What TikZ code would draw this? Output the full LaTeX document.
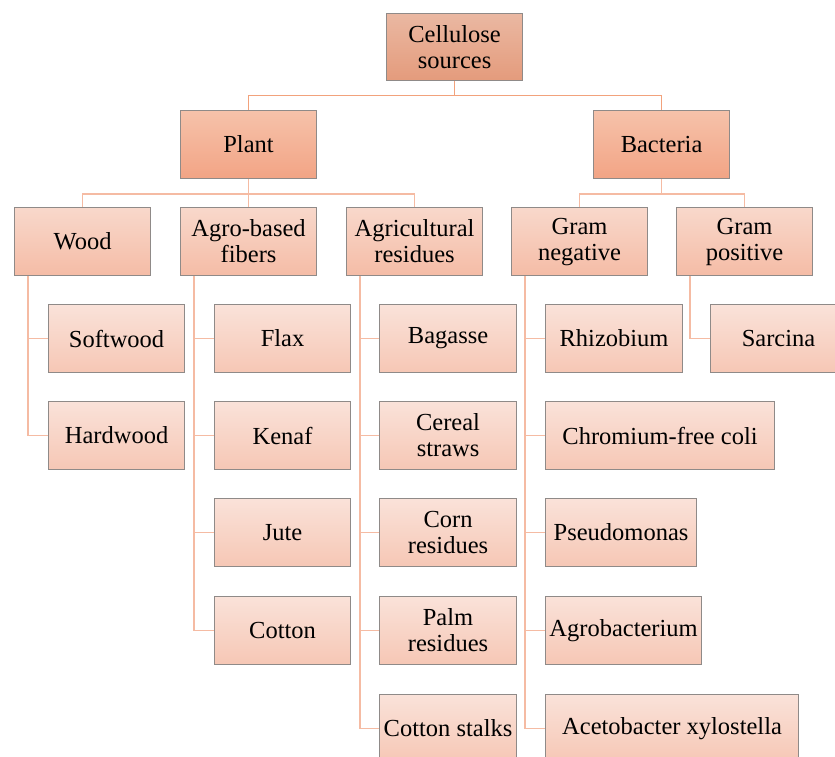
\documentclass[tikz,border=0pt]{standalone}
\usepackage{fontspec}
\setmainfont{Liberation Serif}
\definecolor{rootT}{HTML}{EAB8A2}
\definecolor{rootB}{HTML}{E49B7C}
\definecolor{midT}{HTML}{F6C2AA}
\definecolor{midB}{HTML}{F2A485}
\definecolor{secT}{HTML}{F8D8CB}
\definecolor{secB}{HTML}{F5BCA6}
\definecolor{leafT}{HTML}{FAE2D9}
\definecolor{leafB}{HTML}{F6C7B5}
\definecolor{bord}{HTML}{8F8A88}
\definecolor{lineA}{HTML}{F2A27C}
\definecolor{lineB}{HTML}{F5BBA3}
\begin{document}
\begin{tikzpicture}[x=1pt,y=-1pt,
  box/.style={draw=bord, line width=1.1pt, anchor=north west, align=center,
    inner sep=0pt, font=\fontsize{24.5}{26}\selectfont, text=black},
  lvlroot/.style={box, top color=rootT, bottom color=rootB, minimum width=136, minimum height=67},
  lvlone/.style={box, top color=midT, bottom color=midB, minimum width=136, minimum height=68},
  lvltwo/.style={box, top color=secT, bottom color=secB, minimum width=136, minimum height=68},
  leaf/.style={box, top color=leafT, bottom color=leafB, minimum height=68},
  conA/.style={draw=lineA, line width=1.8pt},
  conB/.style={draw=lineB, line width=1.8pt}]
\clip (0,0) rectangle (835,757);
\useasboundingbox (0,0) rectangle (835,757);
% nodes
\node[lvlroot] (root) at (386,13) {Cellulose\\sources};
\node[lvlone] (plant) at (180,110) {Plant};
\node[lvlone] (bact) at (593,110) {Bacteria};
\node[lvltwo] (wood) at (14,207) {Wood};
\node[lvltwo] (agro) at (180,207) {Agro-based\\fibers};
\node[lvltwo] (agri) at (346,207) {Agricultural\\residues};
\node[lvltwo] (gneg) at (511,207) {Gram\\negative};
\node[lvltwo] (gpos) at (676,207) {Gram\\positive};
% wood leaves
\node[leaf, minimum width=136] (soft) at (48,304) {Softwood};
\node[leaf, minimum width=136] (hard) at (48,401) {Hardwood};
% agro leaves
\node[leaf, minimum width=136] (flax) at (214,304) {Flax};
\node[leaf, minimum width=136] (kenaf) at (214,401) {Kenaf};
\node[leaf, minimum width=136] (jute) at (214,498) {Jute};
\node[leaf, minimum width=136] (cotton) at (214,596) {Cotton};
% agri leaves
\node[leaf, minimum width=137] (bag) at (379,304) {Bagasse};
\node[leaf, minimum width=137] (cereal) at (379,401) {Cereal\\straws};
\node[leaf, minimum width=137] (corn) at (379,498) {Corn\\residues};
\node[leaf, minimum width=137] (palm) at (379,596) {Palm\\residues};
\node[leaf, minimum width=137] (stalk) at (379,694) {Cotton stalks};
% gram negative leaves
\node[leaf, minimum width=137] (rhizo) at (545,304) {Rhizobium};
\node[leaf, minimum width=229] (chrom) at (545,401) {Chromium-free coli};
\node[leaf, minimum width=151] (pseudo) at (545,498) {Pseudomonas};
\node[leaf, minimum width=156] (agrob) at (545,596) {Agrobacterium};
\node[leaf, minimum width=253] (aceto) at (545,694) {Acetobacter xylostella};
% gram positive
\node[leaf, minimum width=136] (sarc) at (710,304) {Sarcina};
% connectors
\draw[conA] (root.south) -- ++(0,14.5) -| (plant.north);
\draw[conA] (root.south) -- ++(0,14.5) -| (bact.north);
\draw[conB] (plant.south) -- ++(0,14.5) -| (wood.north);
\draw[conB] (plant.south) -- (agro.north);
\draw[conB] (plant.south) -- ++(0,14.5) -| (agri.north);
\draw[conB] (bact.south) -- ++(0,14.5) -| (gneg.north);
\draw[conB] (bact.south) -- ++(0,14.5) -| (gpos.north);
\foreach \p/\c in {wood/soft, wood/hard,
  agro/flax, agro/kenaf, agro/jute, agro/cotton,
  agri/bag, agri/cereal, agri/corn, agri/palm, agri/stalk,
  gneg/rhizo, gneg/chrom, gneg/pseudo, gneg/agrob, gneg/aceto,
  gpos/sarc}
  \draw[conB] ([xshift=14pt]\p.south west) |- (\c.west);
\end{tikzpicture}
\end{document}
